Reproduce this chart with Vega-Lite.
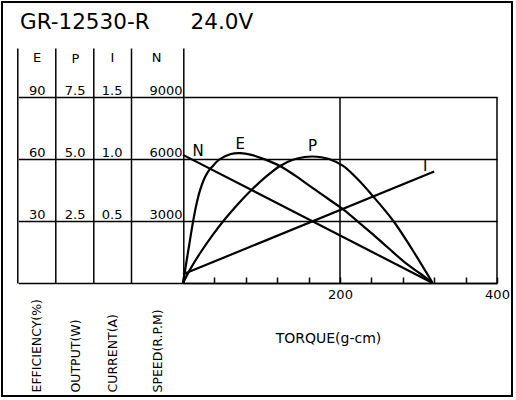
{
  "$schema": "https://vega.github.io/schema/vega-lite/v6.json",
  "width": 510,
  "height": 394,
  "autosize": {"type": "none"},
  "padding": {"left": 2, "top": 2, "right": 4, "bottom": 4},
  "background": "white",
  "config": {
    "view": {"stroke": "black", "strokeWidth": 2, "fill": "white"},
    "font": "DejaVu Sans",
    "axis": {
      "labelFont": "DejaVu Sans", "titleFont": "DejaVu Sans",
      "labelColor": "black", "titleColor": "black",
      "domainColor": "black", "tickColor": "black", "gridColor": "black",
      "titleFontWeight": "normal", "labelFontSize": 13,
      "domainWidth": 1.5, "tickWidth": 1.5, "gridWidth": 1.5,
      "labelOverlap": false, "labelBound": false, "labelFlush": false
    }
  },
  "title": {
    "text": "GR-12530-R\u00a0\u00a0\u00a0\u00a0\u00a0\u00a024.0V",
    "anchor": "start", "frame": "group", "orient": "top",
    "offset": -22, "dx": 18, "dy": 26,
    "baseline": "alphabetic",
    "font": "DejaVu Sans", "fontSize": 21.5, "fontWeight": "normal", "color": "black"
  },
  "datasets": {
    "curves": [
      {"series": "E", "torque": 0, "value": 0},
      {"series": "E", "torque": 3, "value": 7},
      {"series": "E", "torque": 6, "value": 14},
      {"series": "E", "torque": 9, "value": 21},
      {"series": "E", "torque": 12.5, "value": 29},
      {"series": "E", "torque": 16.5, "value": 37},
      {"series": "E", "torque": 21, "value": 44},
      {"series": "E", "torque": 26, "value": 49.5},
      {"series": "E", "torque": 31, "value": 53.3},
      {"series": "E", "torque": 37, "value": 56.2},
      {"series": "E", "torque": 47, "value": 59.9},
      {"series": "E", "torque": 60, "value": 62.3},
      {"series": "E", "torque": 73, "value": 62.8, "label": "E"},
      {"series": "E", "torque": 87, "value": 62},
      {"series": "E", "torque": 105, "value": 59.7},
      {"series": "E", "torque": 124, "value": 56.5},
      {"series": "E", "torque": 142, "value": 52.2},
      {"series": "E", "torque": 160, "value": 47.4},
      {"series": "E", "torque": 180, "value": 42},
      {"series": "E", "torque": 204, "value": 35.6},
      {"series": "E", "torque": 225, "value": 29},
      {"series": "E", "torque": 242, "value": 23.5},
      {"series": "E", "torque": 262, "value": 16.8},
      {"series": "E", "torque": 285, "value": 9.2},
      {"series": "E", "torque": 302, "value": 4.6},
      {"series": "E", "torque": 318, "value": 0},
      {"series": "P", "torque": 0, "value": 0},
      {"series": "P", "torque": 10, "value": 0.6},
      {"series": "P", "torque": 21.7, "value": 1.2},
      {"series": "P", "torque": 38.6, "value": 1.97},
      {"series": "P", "torque": 53.5, "value": 2.58},
      {"series": "P", "torque": 70.4, "value": 3.2},
      {"series": "P", "torque": 87.5, "value": 3.76},
      {"series": "P", "torque": 105, "value": 4.27},
      {"series": "P", "torque": 123.6, "value": 4.72},
      {"series": "P", "torque": 140, "value": 4.97},
      {"series": "P", "torque": 155, "value": 5.08},
      {"series": "P", "torque": 165, "value": 5.1, "label": "P"},
      {"series": "P", "torque": 176, "value": 5.07},
      {"series": "P", "torque": 187, "value": 4.99},
      {"series": "P", "torque": 204, "value": 4.72},
      {"series": "P", "torque": 222, "value": 4.2},
      {"series": "P", "torque": 242, "value": 3.5},
      {"series": "P", "torque": 268, "value": 2.5},
      {"series": "P", "torque": 293, "value": 1.3},
      {"series": "P", "torque": 318, "value": 0},
      {"series": "I", "torque": 0, "value": 0.07},
      {"series": "I", "torque": 320, "value": 0.9, "label": "I"},
      {"series": "N", "torque": 0, "value": 6200, "label": "N"},
      {"series": "N", "torque": 318, "value": 0}
    ]
  },
  "data": {"name": "curves"},
  "encoding": {
    "x": {
      "field": "torque", "type": "quantitative",
      "scale": {"domain": [0, 400], "range": [181, 495], "nice": false},
      "axis": {
        "orient": "bottom", "offset": -113,
        "values": [0, 40, 80, 120, 160, 200, 240, 280, 320, 360, 400],
        "format": "d",
        "labelExpr": "datum.value == 200 || datum.value == 400 ? datum.label : ''",
        "tickSize": -6, "labelPadding": 11, "grid": false,
        "labelFontSize": 13,
        "title": "TORQUE(g-cm)", "titleX": 326, "titleY": 55,
        "titleAlign": "center", "titleBaseline": "middle", "titleFontSize": 14
      }
    }
  },
  "layer": [
    {
      "data": {"values": [{"torque": 200}, {"torque": 400}]},
      "mark": {"type": "rule", "color": "black", "strokeWidth": 1.5},
      "encoding": {
        "y": {
          "datum": 0, "type": "quantitative",
          "scale": {"domain": [0, 11371], "range": [281, 46], "nice": false},
          "axis": {"orient": "left", "offset": -15.3, "ticks": false, "labels": false, "grid": false, "title": null}
        },
        "y2": {"datum": 9000}
      }
    },
    {
      "transform": [{"filter": "datum.series === 'E'"}],
      "encoding": {
        "y": {
          "field": "value", "type": "quantitative",
          "scale": {"domain": [0, 113.71], "range": [281, 46], "nice": false},
          "axis": {
            "orient": "left", "offset": -53.3,
            "values": [30, 60, 90, 108.9], "format": "d",
            "labelExpr": "datum.value > 100 ? 'E' : datum.label",
            "ticks": false, "grid": false,
            "labelAlign": {"condition": {"test": "datum.value > 100", "value": "center"}, "value": "right"},
            "labelBaseline": {"condition": {"test": "datum.value > 100", "value": "middle"}, "value": "alphabetic"},
            "labelPadding": {"condition": {"test": "datum.value > 100", "value": 18.6}, "value": 10.3},
            "labelOffset": {"condition": {"test": "datum.value > 100", "value": 0}, "value": -2.5},
            "title": "EFFICIENCY(%)", "titleAngle": 270, "titleAlign": "left", "titleBaseline": "middle",
            "titleX": -18.6, "titleY": 390, "titleFontSize": 12.5
          }
        }
      },
      "layer": [
        {"mark": {"type": "line", "color": "black", "strokeWidth": 2.2, "interpolate": "catmull-rom"}},
        {
          "transform": [{"filter": "datum.label != null"}],
          "mark": {"type": "text", "color": "black", "font": "DejaVu Sans", "fontSize": 15, "align": "center", "baseline": "middle", "dx": 0, "dy": -9},
          "encoding": {"text": {"field": "label"}}
        }
      ]
    },
    {
      "transform": [{"filter": "datum.series === 'P'"}],
      "encoding": {
        "y": {
          "field": "value", "type": "quantitative",
          "scale": {"domain": [0, 9.476], "range": [281, 46], "nice": false},
          "axis": {
            "orient": "left", "offset": -91.3,
            "values": [2.5, 5, 7.5, 9.07], "format": ".1f",
            "labelExpr": "datum.value > 8 ? 'P' : datum.label",
            "ticks": false, "grid": false,
            "labelAlign": {"condition": {"test": "datum.value > 8", "value": "center"}, "value": "right"},
            "labelBaseline": {"condition": {"test": "datum.value > 8", "value": "middle"}, "value": "alphabetic"},
            "labelPadding": {"condition": {"test": "datum.value > 8", "value": 18.3}, "value": 8.3},
            "labelOffset": {"condition": {"test": "datum.value > 8", "value": 0}, "value": -2.5},
            "title": "OUTPUT(W)", "titleAngle": 270, "titleAlign": "left", "titleBaseline": "middle",
            "titleX": -18.3, "titleY": 390, "titleFontSize": 12.5
          }
        }
      },
      "layer": [
        {"mark": {"type": "line", "color": "black", "strokeWidth": 2.2, "interpolate": "catmull-rom"}},
        {
          "transform": [{"filter": "datum.label != null"}],
          "mark": {"type": "text", "color": "black", "font": "DejaVu Sans", "fontSize": 15, "align": "center", "baseline": "middle", "dx": 0, "dy": -10.5},
          "encoding": {"text": {"field": "label"}}
        }
      ]
    },
    {
      "transform": [{"filter": "datum.series === 'I'"}],
      "encoding": {
        "y": {
          "field": "value", "type": "quantitative",
          "scale": {"domain": [0, 1.8952], "range": [281, 46], "nice": false},
          "axis": {
            "orient": "left", "offset": -129,
            "values": [0.5, 1, 1.5, 1.815], "format": ".1f",
            "labelExpr": "datum.value > 1.6 ? 'I' : datum.label",
            "ticks": false, "grid": false,
            "labelAlign": {"condition": {"test": "datum.value > 1.6", "value": "center"}, "value": "right"},
            "labelBaseline": {"condition": {"test": "datum.value > 1.6", "value": "middle"}, "value": "alphabetic"},
            "labelPadding": {"condition": {"test": "datum.value > 1.6", "value": 19}, "value": 9},
            "labelOffset": {"condition": {"test": "datum.value > 1.6", "value": 0}, "value": -2.5},
            "title": "CURRENT(A)", "titleAngle": 270, "titleAlign": "left", "titleBaseline": "middle",
            "titleX": -19, "titleY": 390, "titleFontSize": 12.5
          }
        }
      },
      "layer": [
        {"mark": {"type": "line", "color": "black", "strokeWidth": 2.2}},
        {
          "transform": [{"filter": "datum.label != null"}],
          "mark": {"type": "text", "color": "black", "font": "DejaVu Sans", "fontSize": 15, "align": "center", "baseline": "middle", "dx": -9, "dy": -5.5},
          "encoding": {"text": {"field": "label"}}
        }
      ]
    },
    {
      "transform": [{"filter": "datum.series === 'N'"}],
      "encoding": {
        "y": {
          "field": "value", "type": "quantitative",
          "scale": {"domain": [0, 11371], "range": [281, 46], "nice": false},
          "axis": {
            "orient": "left", "offset": -181.3,
            "values": [0, 3000, 6000, 9000, 10888], "format": "d",
            "labelExpr": "datum.value > 9500 ? 'N' : (datum.value == 0 ? '' : datum.label)",
            "ticks": true, "tickSize": 165,
            "tickOpacity": {"condition": {"test": "datum.value > 9500", "value": 0}, "value": 1},
            "grid": true,
            "gridOpacity": {"condition": {"test": "datum.value > 9500", "value": 0}, "value": 1},
            "labelAlign": {"condition": {"test": "datum.value > 9500", "value": "center"}, "value": "right"},
            "labelBaseline": {"condition": {"test": "datum.value > 9500", "value": "middle"}, "value": "alphabetic"},
            "labelPadding": {"condition": {"test": "datum.value > 9500", "value": -137.7}, "value": -163.7},
            "labelOffset": {"condition": {"test": "datum.value > 9500", "value": 0}, "value": -2.5},
            "title": "SPEED(R.P.M)", "titleAngle": 270, "titleAlign": "left", "titleBaseline": "middle",
            "titleX": -26.3, "titleY": 390, "titleFontSize": 12.5
          }
        }
      },
      "layer": [
        {"mark": {"type": "line", "color": "black", "strokeWidth": 2.2}},
        {
          "transform": [{"filter": "datum.label != null"}],
          "mark": {"type": "text", "color": "black", "font": "DejaVu Sans", "fontSize": 15, "align": "center", "baseline": "middle", "dx": 15, "dy": -4},
          "encoding": {"text": {"field": "label"}}
        }
      ]
    }
  ],
  "resolve": {"scale": {"y": "independent"}, "axis": {"y": "independent"}}
}
